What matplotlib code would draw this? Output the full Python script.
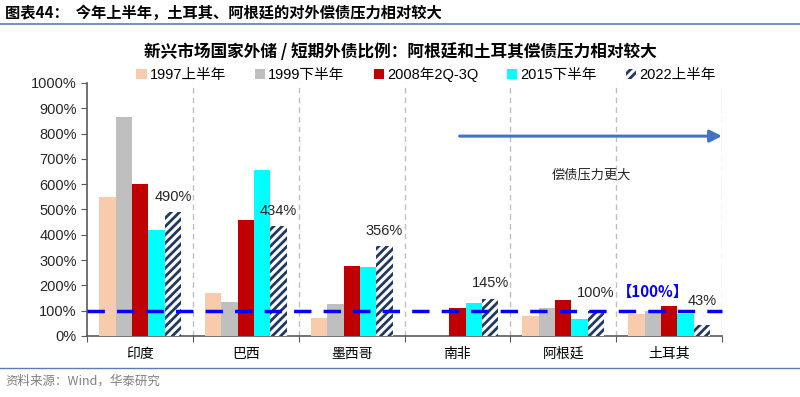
import numpy as np
import matplotlib
matplotlib.use('Agg')
import matplotlib.pyplot as plt
from matplotlib.patches import Patch

plt.rcParams['font.family'] = ['Liberation Sans', 'Noto Sans CJK SC']
plt.rcParams['hatch.linewidth'] = 2.0

# data (reserve / short-term external debt, %)
countries = ['印度', '巴西', '墨西哥', '南非', '阿根廷', '土耳其']
series_names = ['1997上半年', '1999下半年', '2008年2Q-3Q', '2015下半年', '2022上半年']
h1997 = [550, 168, 73, 0, 79, 88]
h1999 = [865, 135, 128, 0, 110, 99]
q2008 = [600, 460, 275, 110, 142, 119]
h2015 = [420, 657, 272, 132, 67, 87]
h2022 = [490, 434, 356, 145, 100, 43]
label_2022 = ['490%', '434%', '356%', '145%', '100%', '43%']
yticks = list(range(0, 1001, 100))

colors = ['#F8CBAD', '#BFBFBF', '#C00000', '#00FFFF', 'white']

fig = plt.figure(figsize=(8, 3.97), dpi=100)
ax = fig.add_axes([0.109, 0.1537, 0.7935, 0.6373])

x = np.arange(len(countries))
w = 0.155
all_series = [h1997, h1999, q2008, h2015, h2022]
for i, vals in enumerate(all_series):
    pos = x + (i - 2) * w
    if i == 4:
        ax.bar(pos, vals, w, color='white', edgecolor='#1F3864', hatch='////', linewidth=0, zorder=3)
    else:
        ax.bar(pos, vals, w, color=colors[i], linewidth=0, zorder=3)

# labels above 2022 bars
offsets = [15, 15, 15, 16, 18, 24]
for xi, v, t, off in zip(x, h2022, label_2022, offsets):
    ax.annotate(t, (xi + 2 * w, v), xytext=(0, off), textcoords='offset pixels',
                ha='center', va='center', fontsize=10.5, color='#262626')

ax.text(4.85, 175, '【100%】', color='#0000FF', fontsize=11, fontweight='bold',
        ha='center', va='center', family=['Noto Sans CJK SC', 'Liberation Sans'])

# 100% reference line
ax.axhline(100, color='#0000FF', lw=2.5, ls=(0, (5, 3.5)), zorder=4, clip_on=False)

# arrow + text
ax.annotate('', xy=(5.5, 790), xytext=(3.02, 790),
            arrowprops=dict(arrowstyle='-|>', color='#4472C4', lw=2.2, mutation_scale=18,
                            shrinkA=0, shrinkB=0))
ax.text(4.27, 636, '偿债压力更大', ha='center', va='center', fontsize=9.5,
        family=['Noto Sans CJK SC'], color='#262626')

ax.set_xlim(-0.5, 5.5)
ax.set_ylim(0, 1000)
ax.set_yticks(yticks)
ax.set_yticklabels([f'{v}%' for v in yticks], fontsize=10.5, color='#262626')
ax.set_xticks(np.arange(-0.5, 6, 1))
ax.set_xticklabels([])
ax.set_xticks(x, minor=True)
ax.set_xticklabels(countries, minor=True, fontsize=10, family=['Noto Sans CJK SC'])
ax.tick_params(axis='x', which='minor', length=0, pad=8)
ax.tick_params(axis='x', which='major', length=4, color='#595959')
ax.tick_params(axis='y', length=4, color='#595959')
for b in np.arange(0.5, 6, 1):
    ax.axvline(b, color='#BFBFBF', ls=(0, (4, 3)), lw=1, zorder=1)
for s in ['top', 'right']:
    ax.spines[s].set_visible(False)
for s in ['left', 'bottom']:
    ax.spines[s].set_color('#595959')
    ax.spines[s].set_linewidth(1.2)

# legend
handles = [Patch(facecolor=c, edgecolor='none') for c in colors[:4]]
handles.append(Patch(facecolor='white', edgecolor='#1F3864', hatch='////', linewidth=0))
fig.legend(handles, series_names, loc='center', bbox_to_anchor=(426 / 800, 1 - 75 / 397),
           ncol=5, frameon=False, fontsize=10.5, handlelength=0.7, handleheight=0.7,
           handletextpad=0.2, columnspacing=2.0)

# title, header, footer
fig.text(0.5, 1 - 52 / 397, '新兴市场国家外储 / 短期外债比例：阿根廷和土耳其偿债压力相对较大',
         ha='center', va='center', fontsize=12, fontweight='bold', family=['Noto Sans CJK SC'])
fig.text(5 / 800, 1 - 13 / 397, '图表44：  今年上半年，土耳其、阿根廷的对外偿债压力相对较大',
         ha='left', va='center', fontsize=11, fontweight='bold', family=['Noto Sans CJK SC'])
fig.add_artist(plt.Line2D([0, 1], [1 - 24 / 397] * 2, color='#5B7DB1', lw=1.2))
fig.add_artist(plt.Line2D([0, 1], [1 - 368 / 397] * 2, color='#5B7DB1', lw=1.0))
fig.text(5 / 800, 1 - 381 / 397, '资料来源：Wind，华泰研究', ha='left', va='center',
         fontsize=9, color='#808080', family=['Noto Sans CJK SC', 'Liberation Sans'])

fig.savefig('out.png', dpi=100)
